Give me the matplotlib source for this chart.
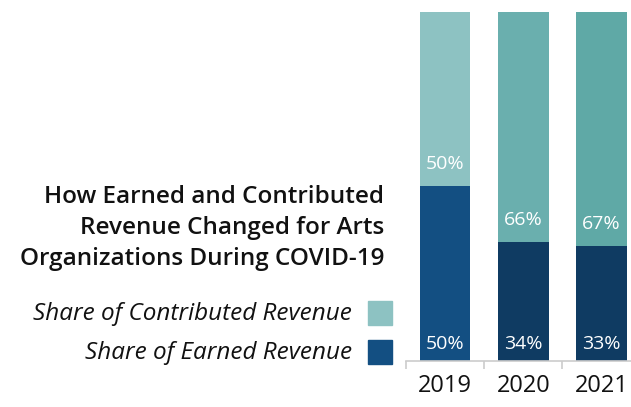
import numpy as np
import matplotlib.pyplot as plt
from matplotlib.patches import Rectangle

years = ['2019', '2020', '2021']
earned = [50, 34, 33]
contributed = [50, 66, 67]
earned_colors = ['#134f82', '#0f3b62', '#0f3b62']
contrib_colors = ['#8dc2c2', '#6aafae', '#5fa9a6']

W, H = 631, 407
fig = plt.figure(figsize=(W / 100, H / 100), dpi=100)

# axes: left edge at 406px, bottom at 361px, top at 12px
ax = fig.add_axes([406 / W, (H - 361) / H, (W - 406) / W, 349 / H])
x = np.arange(len(years))
ax.bar(x, earned, width=0.65, color=earned_colors)
ax.bar(x, contributed, width=0.65, bottom=earned, color=contrib_colors)

ax.set_ylim(0, 100)
ax.set_xlim(-0.5, 2.5 - 9.5 / 78)

# value labels near the base of each segment
px = 100 / 349
for i in range(len(years)):
    ax.text(x[i], 8 * px, f'{earned[i]}%', ha='center', va='bottom',
            color='white', fontsize=14, family='Open Sans')
    ax.text(x[i], earned[i] + 13 * px, f'{contributed[i]}%', ha='center', va='bottom',
            color='white', fontsize=14, family='Open Sans')

for s in ['top', 'right', 'left']:
    ax.spines[s].set_visible(False)
ax.spines['bottom'].set_color('#cccccc')
ax.spines['bottom'].set_linewidth(1.2)
ax.set_yticks([])
ax.set_xticks([-0.5, 0.5, 1.5])
ax.set_xticklabels([])
ax.tick_params(axis='x', length=6, color='#cccccc', width=1.2)
for i, y in enumerate(years):
    ax.text(x[i], -13 * px, y, ha='center', va='top', fontsize=17,
            family='Open Sans', color='#111111', clip_on=False)

# title
title = 'How Earned and Contributed\nRevenue Changed for Arts\nOrganizations During COVID-19'
fig.text(384 / W, 1 - 185 / H, title, ha='right', va='top', fontsize=17.5,
         family='Open Sans', weight='semibold', color='#111111', linespacing=1.38)

# legend
fig.text(352 / W, 1 - 314 / H, 'Share of Contributed Revenue', ha='right', va='center',
         fontsize=17.5, family='Open Sans', style='italic', color='#111111')
fig.text(352 / W, 1 - 353 / H, 'Share of Earned Revenue', ha='right', va='center',
         fontsize=17.5, family='Open Sans', style='italic', color='#111111')
fig.patches.append(Rectangle((368 / W, 1 - 325 / H), 24 / W, 24 / H,
                             transform=fig.transFigure, color='#8dc2c2'))
fig.patches.append(Rectangle((368 / W, 1 - 364 / H), 24 / W, 24 / H,
                             transform=fig.transFigure, color='#134f82'))

fig.savefig('out.png', dpi=100)
